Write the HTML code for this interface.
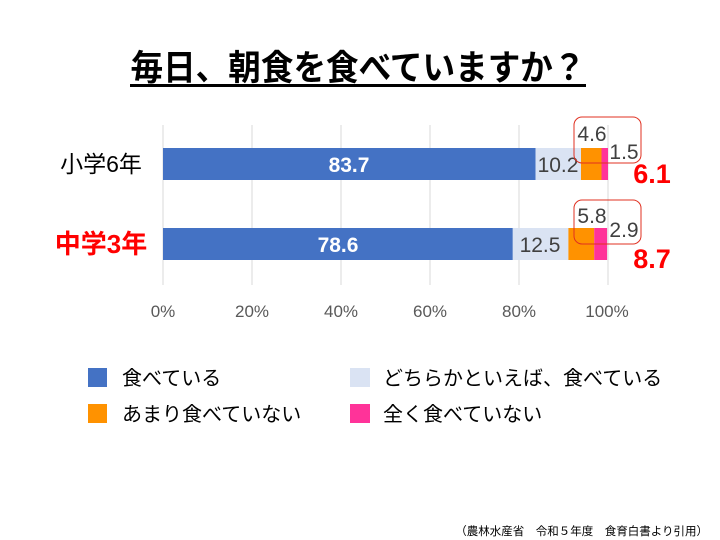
<!DOCTYPE html>
<html><head><meta charset="utf-8"><style>
html,body{margin:0;padding:0;background:#fff;}
svg{display:block;font-family:"Liberation Sans","Noto Sans CJK JP",sans-serif;}
</style></head><body>
<svg width="720" height="540" viewBox="0 0 720 540" xmlns="http://www.w3.org/2000/svg">
<rect width="720" height="540" fill="#fff"/>
<text x="358" y="80" text-anchor="middle" font-size="35" font-weight="bold" fill="#000" textLength="455" lengthAdjust="spacingAndGlyphs">毎日、朝食を食べていますか？</text>
<rect x="130" y="84" width="456" height="3" fill="#000"/>
<g stroke="#d9d9d9" stroke-width="1">
<line x1="163" y1="125" x2="163" y2="285"/>
<line x1="252" y1="125" x2="252" y2="285"/>
<line x1="341" y1="125" x2="341" y2="285"/>
<line x1="430" y1="125" x2="430" y2="285"/>
<line x1="519" y1="125" x2="519" y2="285"/>
<line x1="608" y1="125" x2="608" y2="285"/>
</g>
<g font-size="17" fill="#595959" text-anchor="middle">
<text x="163" y="317">0%</text><text x="252" y="317">20%</text><text x="341" y="317">40%</text>
<text x="430" y="317">60%</text><text x="519" y="317">80%</text><text x="607" y="317">100%</text>
</g>
<rect x="163" y="148" width="372.5" height="32" fill="#4472c4"/>
<rect x="535.5" y="148" width="45.5" height="32" fill="#dae3f3"/>
<rect x="581" y="148" width="20.5" height="32" fill="#ff9200"/>
<rect x="601.5" y="148" width="6.5" height="32" fill="#ff3399"/>
<rect x="163" y="228" width="349.8" height="32" fill="#4472c4"/>
<rect x="512.8" y="228" width="55.6" height="32" fill="#dae3f3"/>
<rect x="568.4" y="228" width="25.8" height="32" fill="#ff9200"/>
<rect x="594.2" y="228" width="12.9" height="32" fill="#ff3399"/>
<g font-size="21" text-anchor="middle">
<text x="349" y="172" fill="#fff" font-weight="bold">83.7</text>
<text x="558" y="172" fill="#404040">10.2</text>
<text x="338" y="252" fill="#fff" font-weight="bold">78.6</text>
<text x="540" y="252" fill="#404040">12.5</text>
<text x="592" y="141" fill="#404040">4.6</text>
<text x="624" y="159" fill="#404040">1.5</text>
<text x="592" y="223" fill="#404040">5.8</text>
<text x="624" y="237" fill="#404040">2.9</text>
</g>
<rect x="574" y="117" width="67" height="46" rx="8" fill="none" stroke="#e03020" stroke-width="1"/>
<rect x="574" y="200" width="67" height="44" rx="8" fill="none" stroke="#e03020" stroke-width="1"/>
<g font-size="27" font-weight="bold" fill="#ff0000" text-anchor="middle">
<text x="652" y="183">6.1</text>
<text x="652" y="268">8.7</text>
</g>
<text x="101" y="172" text-anchor="middle" font-size="23" fill="#000">小学6年</text>
<text x="101" y="253" text-anchor="middle" font-size="26" font-weight="bold" fill="#ff0000">中学3年</text>
<rect x="88" y="368" width="19" height="19" fill="#4472c4"/>
<rect x="88" y="404" width="19" height="19" fill="#ff9200"/>
<rect x="350" y="368" width="20" height="19" fill="#dae3f3"/>
<rect x="350" y="404" width="20" height="19" fill="#ff3399"/>
<g font-size="20" fill="#000">
<text x="122" y="385">食べている</text>
<text x="122" y="421">あまり食べていない</text>
<text x="383" y="385">どちらかといえば、食べている</text>
<text x="383" y="421">全く食べていない</text>
</g>
<text x="708" y="535" text-anchor="end" font-size="11.5" fill="#000">（農林水産省　令和５年度　食育白書より引用）</text>
</svg>
</body></html>
